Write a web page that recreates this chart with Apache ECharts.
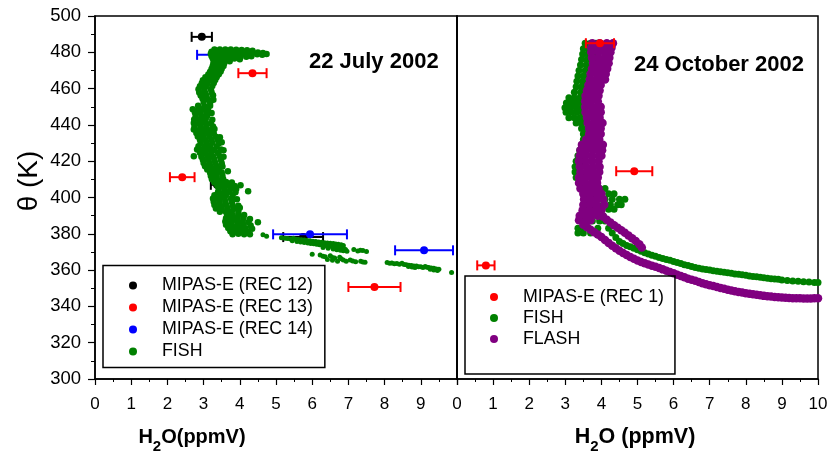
<!DOCTYPE html>
<html><head><meta charset="utf-8">
<script src="https://cdn.jsdelivr.net/npm/echarts@6/dist/echarts.min.js"></script>
<style>html,body{margin:0;padding:0;background:#fff}#c{width:832px;height:457px}</style>
</head><body><div id="c"></div>
<script>
const FONT = '"Liberation Sans", Arial, sans-serif';
const thetaMin = 300, thetaMax = 500, thetaStep = 20;
const h2oMin = 0, h2oMax = 10, h2oStep = 1;

// MIPAS retrievals: [H2O ppmv, theta K, error ppmv]
const mipasRec12 = [[2.95,488.5,0.28],[3.37,407.0,0.17],[5.75,378.2,0.55]];
const mipasRec13 = [[4.35,468.5,0.39],[2.41,411.2,0.34],[7.72,350.7,0.72]];
const mipasRec14 = [[3.35,478.6,0.53],[5.94,379.7,1.02],[9.09,370.9,0.80]];
const mipasRec1  = [[3.96,485.0,0.39],[4.91,414.5,0.50],[0.80,362.6,0.24]];

// FISH 22 July 2002 (upper cloud): [H2O, theta]
const fishJulyCloud = [
[3.30,481.5],[3.45,481.5],[3.60,481.6],[3.75,481.5],[3.90,481.4],[4.05,481.3],[4.20,481.1],[4.35,480.8],
[3.22,480.3],[3.38,480.4],[3.54,480.3],[3.70,480.4],[3.86,480.2],[4.02,480.3],[4.18,480.1],[4.34,480.0],[4.50,479.9],[4.64,479.6],
[3.20,479.2],[3.36,479.1],[3.52,479.3],[3.68,479.0],[3.84,479.2],[4.00,478.9],[4.16,479.0],[4.32,478.8],[4.48,478.9],[4.62,478.7],[4.74,479.1],
[3.22,478.0],[3.38,477.9],[3.54,478.1],[3.70,477.8],[3.86,477.9],[4.02,477.6],[4.18,477.5],[4.32,477.8],
[3.25,476.7],[3.40,476.5],[3.55,476.8],[3.70,476.3],[3.85,476.6],[4.00,476.2],
[3.28,475.3],[3.42,475.0],[3.56,475.4],[3.72,475.1],
[3.27,473.8],[3.42,473.6],[3.57,473.9],
[3.25,472.3],[3.40,472.1],[3.55,472.4],
[3.22,470.8],[3.37,470.6],[3.50,470.9],
[3.18,469.3],[3.33,469.1],[3.47,469.4],
[3.13,467.8],[3.28,467.6],[3.42,467.9],
[3.05,466.2],[3.20,466.0],[3.36,466.3],
[2.98,464.6],[3.14,464.4],[3.32,464.8],
[2.95,463.0],[3.10,462.8],[3.28,463.1],
[2.90,461.3],[3.06,461.2],[3.24,461.5],
[2.86,459.6],[3.02,459.4],[3.20,459.7],
[2.88,457.9],[3.04,457.7],[3.22,458.0],
[2.92,456.2],[3.08,456.0],[3.26,456.3],
[2.97,454.5],[3.12,454.2],[3.27,453.8],
[3.00,452.6],[3.18,452.2],
[2.85,450.5],[3.02,450.3],[3.18,450.6],
[2.70,448.6],[2.85,448.4],[3.00,448.8],[3.12,448.2],
[2.76,446.8],[2.92,446.5],[3.08,446.9],[3.22,446.6],
[2.78,444.9],[2.94,444.6],[3.10,445.0],
[2.74,443.0],[2.90,442.8],[3.06,443.2],[3.24,442.9],
[2.73,441.1],[2.88,440.8],[3.04,441.2],[3.20,440.9],
[2.75,439.2],[2.92,439.0],[3.08,439.4],[3.26,439.1],
[2.73,437.4],[2.88,437.2],[3.04,437.6],[3.20,437.2],[3.30,437.8],
[2.80,435.5],[2.96,435.2],[3.12,435.6],[3.28,435.3],
[2.84,433.6],[3.00,433.4],[3.16,433.8],[3.34,433.5],[3.45,433.2],
[2.90,431.8],[3.06,431.5],[3.22,431.9],[3.40,431.6],
[2.92,430.0],[3.08,429.8],[3.24,430.2],[3.42,429.9],[3.50,430.4],
[2.86,428.2],[3.02,428.0],[3.18,428.4],[3.36,428.1],
[2.82,426.4],[2.98,426.2],[3.14,426.6],[3.30,426.3],[3.48,426.5],[3.55,426.0],
[2.90,424.6],[3.06,424.4],[3.22,424.8],[3.40,424.5],
[2.73,422.7],[2.94,422.5],[3.10,422.9],[3.26,422.6],[3.44,422.8],[3.55,422.4],
[2.98,420.8],[3.14,420.6],[3.30,421.0],[3.48,420.7],
[3.00,419.0],[3.16,418.8],[3.32,419.2],[3.50,418.9],
[3.04,417.2],[3.20,417.0],[3.36,417.4],[3.52,417.1],
[3.10,415.4],[3.26,415.2],[3.42,415.6],[3.67,414.4],
[3.18,413.6],[3.34,413.4],[3.50,413.8],
[3.20,411.8],[3.36,411.6],[3.52,412.0],
[3.23,410.0],[3.38,409.8],[3.54,410.2],
[3.30,408.3],[3.46,408.1],[3.62,408.5],[3.78,408.2],
[3.38,406.5],[3.54,406.3],[3.70,406.7],[3.86,406.4],[4.02,406.8],
[3.42,404.8],[3.58,404.6],[3.74,405.0],[3.90,404.7],[4.23,403.5],
[3.40,403.0],[3.56,402.8],[3.72,403.2],[3.88,402.9],
[3.30,401.2],[3.46,401.0],[3.62,401.4],[3.80,401.1],
[3.26,399.4],[3.42,399.2],[3.58,399.6],[3.76,399.3],[3.92,399.0],
[3.28,397.6],[3.44,397.4],[3.60,397.8],[3.78,397.5],
[3.30,395.8],[3.46,395.6],[3.62,396.0],[3.80,395.7],[3.96,395.4],
[3.34,394.0],[3.50,393.8],[3.66,394.2],[3.84,393.9],[4.00,394.3],
[3.45,392.2],[3.62,392.0],[3.78,392.4],[3.96,392.1],
[3.65,390.4],[3.80,390.2],[3.96,390.6],[4.12,390.3],
[3.62,388.6],[3.78,388.4],[3.94,388.8],[4.10,388.5],[4.28,388.2],
[3.60,386.8],[3.76,386.6],[3.92,387.0],[4.08,386.7],[4.24,386.4],[4.50,386.3],
[3.62,385.0],[3.78,384.8],[3.94,385.2],[4.10,384.9],[4.30,384.6],
[3.68,383.2],[3.84,383.0],[4.00,383.4],[4.16,383.1],[4.34,382.8],
[3.74,381.4],[3.90,381.2],[4.06,381.6],[4.22,381.3],
[3.80,379.8],[3.96,380.0],[4.12,379.7],[4.28,379.8]
];

// FISH 22 July 2002 (lower trail)
const fishJulyTrail = [
[4.64,379.5],[4.74,378.7],
[5.15,377.8],[5.25,377.5],[5.32,377.4],[5.40,377.1],[5.48,377.6],[5.55,377.0],[5.62,376.9],[5.70,376.7],[5.78,376.6],[5.86,376.3],[5.94,376.2],[6.02,375.9],[6.10,375.8],[6.18,375.5],[6.26,375.4],[6.34,375.1],[6.42,375.0],[6.50,374.8],[6.58,374.7],[6.65,374.4],[6.72,374.3],[6.80,373.9],[6.86,373.6],
[5.45,376.2],[5.58,375.8],[5.68,375.5],[5.78,375.2],[5.88,374.9],[5.96,374.6],[6.04,374.5],[6.12,374.2],[6.20,374.0],[6.28,373.8],[6.36,373.6],[6.44,373.3],[6.52,373.2],[6.60,372.9],[6.66,372.7],[6.74,372.4],[6.80,372.2],[6.88,371.8],[6.92,371.4],[6.96,370.4],[6.86,370.6],[6.78,370.9],[6.68,371.2],[6.58,371.6],[6.44,372.0],[6.30,372.5],
[6.00,368.7],[6.22,368.3],[6.30,367.6],[6.36,367.3],[6.50,367.9],[6.56,367.0],[6.62,366.6],[6.76,367.1],[6.80,366.2],[6.86,365.6],[6.42,365.9],[6.94,364.9],[6.70,364.9],[6.56,365.4],
[7.15,371.4],[7.26,370.5],[7.33,371.0],[7.40,370.8],[7.50,370.2],[7.05,365.6],[7.12,365.0],[7.20,364.6],[7.34,364.9],[7.40,364.4],[7.46,364.3],
[8.07,364.2],[8.14,363.8],[8.20,363.9],[8.27,363.5],[8.34,363.6],[8.41,363.2],[8.48,363.8],[8.54,363.1],[8.60,363.0],[8.67,362.7],[8.74,362.6],[8.81,362.2],[8.88,362.3],[8.94,361.9],[9.00,361.8],[9.06,361.5],[9.12,362.0],[9.17,361.6],[9.22,361.4],[9.29,361.1],[9.36,361.0],[9.43,360.6],[9.50,360.4],
[8.66,362.0],[8.76,361.7],[8.84,361.4],[9.26,360.4],[9.36,360.1],[9.46,359.8],[9.85,358.7]
];

// FISH 24 October 2002
const fishOct = [
[3.55,485],[3.70,485],[3.85,485],
[3.50,482],[3.65,482],[3.80,482],
[3.48,479],[3.62,479],[3.78,479],
[3.45,476],[3.60,476],[3.75,476],
[3.42,473],[3.58,473],[3.72,473],
[3.38,470],[3.55,470],[3.70,470],
[3.35,467],[3.50,467],[3.66,467],
[3.32,464],[3.48,464],[3.64,464],
[3.30,461],[3.45,461],[3.60,461],
[3.25,458],[3.42,458],[3.58,458],
[3.10,455],[3.25,455],[3.40,455],[3.56,455],
[3.03,452],[3.18,452],[3.33,452],[3.48,452],
[2.99,449.5],[3.14,449.5],[3.30,449.5],[3.45,449.5],
[3.02,447],[3.17,447],[3.32,447],[3.47,447],
[3.10,444],[3.25,444],[3.40,444],[3.55,444],
[3.30,441],[3.45,441],[3.60,441],
[3.45,438],[3.60,438],
[3.50,435],[3.65,435],
[3.50,432],[3.65,432],
[3.45,429],[3.60,429],
[3.40,426],[3.55,426],
[3.35,423],[3.50,423],
[3.30,420],[3.45,420],
[3.27,417],[3.42,417],
[3.27,414],[3.42,414],
[3.30,411],[3.45,411],
[3.40,408],[3.55,408],
[3.55,405],[3.75,405],[3.95,405],[4.10,405],
[3.60,402],[3.80,402],[4.00,402],[4.20,402],[4.35,402],
[3.70,399],[3.90,399],[4.10,399],[4.30,399],[4.50,399],[4.65,399],
[3.65,396],[3.85,396],[4.05,396],[4.25,396],[4.45,396],[4.55,396],
[3.60,393.5],[3.80,393.5],[4.00,393.5],[4.20,393.5],[4.35,393.5],
[3.50,390],[3.70,390],[3.90,390],[4.05,390],
[3.55,387],[3.75,387],[3.95,387],[4.10,387],
[3.35,383],[3.50,383],[3.65,383],[3.90,383],[4.20,383],
[3.35,380.5],[3.50,380.5],[3.70,380.5],[4.30,380.5],
[4.40,378.0],[4.50,375.8],[4.60,374.6],[4.70,373.6],[4.80,372.8],[4.90,372.0],[5.00,371.2],[5.10,370.4],[5.20,369.6],[5.30,368.9],[5.40,368.2],[5.50,367.6],[5.60,367.0],[5.70,366.4],[5.80,365.9],[5.90,365.4],[6.00,364.8],[6.10,364.2],[6.20,363.6],[6.30,363.0],[6.40,362.5],[6.50,362.0],[6.60,361.5],[6.70,361.0],[6.80,360.6],[6.90,360.3],[7.00,360.0],[7.10,359.7],[7.20,359.4],[7.30,359.1],[7.40,358.8],[7.50,358.5],[7.60,358.2],[7.70,357.9],[7.80,357.7],[7.90,357.4],[8.00,357.1],[8.10,356.8],[8.20,356.5],[8.30,356.3],[8.40,356.0],[8.50,355.8],[8.60,355.5],[8.70,355.3],[8.80,355.1],[8.90,354.9],[9.00,354.6],[9.15,354.3],[9.30,354.0],[9.45,353.8],[9.60,353.6],[9.75,353.4],[9.90,353.2],[10.0,353.1]
];

// FLASH 24 October 2002
const flashOct = [
[3.75,485],[3.95,485],[4.15,485],[4.32,485],
[3.72,482.5],[3.92,482.5],[4.12,482.5],[4.28,482.5],
[3.72,480],[3.92,480],[4.10,480],[4.25,480],
[3.74,477],[3.92,477],[4.10,477],[4.22,477],
[3.77,474],[3.94,474],[4.08,474],[4.20,474],
[3.74,471],[3.90,471],[4.05,471],[4.16,471],
[3.70,468],[3.88,468],[4.03,468],[4.12,468],
[3.68,465],[3.85,465],[4.00,465],[4.10,465],
[3.64,462],[3.82,462],[3.98,462],
[3.60,459],[3.78,459],[3.95,459],
[3.56,456],[3.74,456],[3.92,456],
[3.55,453],[3.72,453],[3.90,453],
[3.55,450],[3.72,450],[3.88,450],[3.98,450],
[3.56,447],[3.74,447],[3.90,447],[3.98,447],
[3.60,444],[3.78,444],[3.95,444],
[3.62,441],[3.80,441],[3.97,441],[4.03,441],
[3.66,438],[3.82,438],[3.98,438],
[3.66,435],[3.82,435],[3.98,435],
[3.58,432],[3.76,432],[3.94,432],
[3.46,429],[3.62,429],[3.80,429],[3.96,429],[4.04,429],
[3.42,426],[3.58,426],[3.76,426],[3.94,426],[4.02,426],
[3.40,423],[3.56,423],[3.74,423],[3.92,423],[4.00,423],
[3.38,420],[3.56,420],[3.74,420],[3.92,420],
[3.40,417],[3.58,417],[3.76,417],[3.95,417],
[3.42,414],[3.60,414],[3.78,414],[3.94,414],
[3.38,411],[3.56,411],[3.74,411],[3.90,411],
[3.38,408],[3.55,408],[3.72,408],[3.88,408],
[3.42,405],[3.60,405],[3.78,405],[3.92,405],
[3.50,402],[3.68,402],[3.86,402],[4.00,402],
[3.52,399],[3.70,399],[3.88,399],[4.05,399],
[3.50,396],[3.68,396],[3.86,396],[4.08,396],
[3.48,393],[3.66,393],[3.84,393],[4.00,393],
[3.40,390],[3.56,390],[3.72,390],[3.90,390],
[3.38,387.5],[3.55,387],[3.70,387.5],
[3.50,385.0],[3.60,383.6],[3.70,382.2],[3.80,380.9],[3.90,379.6],[4.00,378.2],[4.10,376.6],[4.20,375.0],[4.30,373.4],[4.40,372.0],[4.50,370.6],[4.60,369.4],[4.70,368.3],[4.80,367.2],[4.90,366.2],[5.00,365.3],[5.10,364.5],[5.20,363.8],[5.30,363.1],[5.40,362.4],[5.50,361.8],[5.60,361.1],[5.70,360.4],[5.80,359.6],[5.90,358.9],[6.00,358.2],[6.10,357.4],[6.20,356.7],[6.30,356.0],[6.40,355.3],[6.50,354.7],[6.60,354.1],[6.70,353.4],[6.80,352.8],[6.90,352.2],[7.00,351.7],[7.10,351.2],[7.20,350.7],[7.30,350.2],[7.40,349.7],[7.50,349.2],[7.60,348.8],[7.70,348.4],[7.80,348.0],[7.90,347.6],[8.00,347.3],[8.10,347.0],[8.20,346.7],[8.30,346.4],[8.40,346.1],[8.50,345.8],[8.60,345.6],[8.70,345.4],[8.80,345.2],[8.90,345.0],[9.00,344.9],[9.10,344.7],[9.20,344.6],[9.30,344.5],[9.40,344.5],[9.50,344.5],[9.60,344.4],[9.70,344.4],[9.80,344.4],[9.90,344.5],[10.0,344.5],
[3.95,391.0],[4.05,389.4],[4.15,387.8],[4.25,386.2],[4.35,384.7],[4.45,383.3],[4.55,382.0],[4.65,380.6],[4.75,379.0],[4.85,377.6],[4.95,376.0],[5.05,374.2],[5.12,372.4]
];

const chart = echarts.init(document.getElementById('c'), null, {renderer: 'canvas'});

function errBar(params, api) {
  const x = api.value(0), y = api.value(1), e = api.value(2);
  const a = api.coord([x - e, y]), b = api.coord([x + e, y]), c = api.coord([x, y]);
  const col = api.visual('color');
  const h = 5;
  const st = {stroke: col, lineWidth: 2};
  return {type: 'group', children: [
    {type: 'line', shape: {x1: a[0], y1: a[1], x2: b[0], y2: b[1]}, style: st},
    {type: 'line', shape: {x1: a[0], y1: a[1] - h, x2: a[0], y2: a[1] + h}, style: st},
    {type: 'line', shape: {x1: b[0], y1: b[1] - h, x2: b[0], y2: b[1] + h}, style: st},
    {type: 'circle', shape: {cx: c[0], cy: c[1], r: 4}, style: {fill: col}}
  ]};
}

function xAxisCfg(gi, hideMax) {
  return {
    type: 'value', gridIndex: gi, min: h2oMin, max: h2oMax, interval: h2oStep,
    axisLine: {onZero: false, lineStyle: {color: '#000', width: 1.5}},
    axisTick: {show: true, length: 6, lineStyle: {color: '#000', width: 1.2}},
    minorTick: {show: true, splitNumber: 2, length: 3, lineStyle: {color: '#000', width: 1}},
    splitLine: {show: false}, minorSplitLine: {show: false},
    axisLabel: {color: '#000', fontSize: 17, fontFamily: FONT, margin: 17,
      formatter: v => (hideMax && v === h2oMax) ? '' : String(v)}
  };
}

function mip(name, data, color, xi, yi, z) {
  return {type: 'custom', name: name, xAxisIndex: xi, yAxisIndex: yi, data: data,
    dimensions: ['x', 'y', 'err'], encode: {x: 0, y: 1}, renderItem: errBar,
    itemStyle: {color: color}, clip: true, z: z, silent: true};
}

function sc(name, data, color, xi, size, z) {
  return {type: 'scatter', name: name, xAxisIndex: xi, yAxisIndex: xi, data: data,
    symbol: 'circle', symbolSize: size, itemStyle: {color: color, opacity: 1}, clip: true, z: z, silent: true};
}

const legendText = {color: '#000', fontSize: 17.8, fontFamily: FONT, lineHeight: 18};

chart.setOption({
  animation: false,
  backgroundColor: '#fff',
  title: [
    {text: '22 July 2002', left: 309, top: 51, padding: 0,
     textStyle: {fontSize: 22, fontWeight: 'bold', color: '#000', fontFamily: FONT}},
    {text: '24 October 2002', left: 634, top: 54, padding: 0,
     textStyle: {fontSize: 22, fontWeight: 'bold', color: '#000', fontFamily: FONT}}
  ],
  grid: [
    {left: 95, top: 16, width: 362, height: 363, show: true, borderColor: '#000', borderWidth: 1.5, backgroundColor: 'transparent'},
    {left: 457, top: 16, width: 361, height: 363, show: true, borderColor: '#000', borderWidth: 1.5, backgroundColor: 'transparent'}
  ],
  xAxis: [xAxisCfg(0, true), xAxisCfg(1, false)],
  yAxis: [
    {type: 'value', gridIndex: 0, min: thetaMin, max: thetaMax, interval: thetaStep,
     axisLine: {show: true, lineStyle: {color: '#000', width: 1.5}},
     axisTick: {show: true, length: 7, lineStyle: {color: '#000', width: 1.2}},
     minorTick: {show: true, splitNumber: 2, length: 4, lineStyle: {color: '#000', width: 1}},
     splitLine: {show: false},
     axisLabel: {color: '#000', fontSize: 18.5, fontFamily: FONT, margin: 14}},
    {type: 'value', gridIndex: 1, min: thetaMin, max: thetaMax, interval: thetaStep,
     axisLine: {show: true, lineStyle: {color: '#000', width: 1.5}},
     axisTick: {show: false}, axisLabel: {show: false}, splitLine: {show: false}}
  ],
  legend: [
    {orient: 'vertical', left: 103, top: 265.5, selectedMode: false,
     data: [{name: 'MIPAS-E (REC 12)', icon: 'circle'}, {name: 'MIPAS-E (REC 13)', icon: 'circle'},
            {name: 'MIPAS-E (REC 14)', icon: 'circle'}, {name: 'FISH', icon: 'circle'}],
     itemWidth: 48, itemHeight: 8, itemGap: 4, padding: [11, 12, 7, 26],
     borderColor: '#000', borderWidth: 1.5, textStyle: legendText},
    {orient: 'vertical', left: 465, top: 276, selectedMode: false,
     data: [{name: 'MIPAS-E (REC 1)', icon: 'circle'}, {name: 'FISH', icon: 'circle'}, {name: 'FLASH', icon: 'circle'}],
     itemWidth: 48, itemHeight: 8, itemGap: 3, padding: [12, 11, 26, 25],
     borderColor: '#000', borderWidth: 1.5, textStyle: legendText}
  ],
  graphic: [
    {type: 'text', x: 29, y: 181, rotation: Math.PI / 2,
     style: {text: 'θ (K)', font: '28px ' + FONT, fill: '#000', align: 'center', verticalAlign: 'middle'}},
    {type: 'text', x: 192, y: 437,
     style: {text: '{a|H}{b|2}{a|O(ppmV)}', align: 'center', verticalAlign: 'middle', fill: '#000',
       rich: {a: {fontSize: 20, fontWeight: 'bold', fontFamily: FONT, lineHeight: 34, fill: '#000'},
              b: {fontSize: 15, fontWeight: 'bold', fontFamily: FONT, lineHeight: 14, verticalAlign: 'bottom', fill: '#000'}}}},
    {type: 'text', x: 635, y: 437,
     style: {text: '{a|H}{b|2}{a|O (ppmV)}', align: 'center', verticalAlign: 'middle', fill: '#000',
       rich: {a: {fontSize: 21.5, fontWeight: 'bold', fontFamily: FONT, lineHeight: 34, fill: '#000'},
              b: {fontSize: 15, fontWeight: 'bold', fontFamily: FONT, lineHeight: 14, verticalAlign: 'bottom', fill: '#000'}}}}
  ],
  series: [
    mip('MIPAS-E (REC 12)', mipasRec12, '#000000', 0, 0, 2),
    mip('MIPAS-E (REC 13)', mipasRec13, '#ff0000', 0, 0, 2),
    mip('MIPAS-E (REC 14)', mipasRec14, '#0000ff', 0, 0, 2),
    sc('FISH', fishJulyCloud, '#008000', 0, 6.5, 3),
    sc('FISH', fishJulyTrail, '#008000', 0, 5, 3),
    sc('FISH', fishOct, '#008000', 1, 7, 2),
    sc('FLASH', flashOct, '#800080', 1, 8.5, 3),
    mip('MIPAS-E (REC 1)', mipasRec1, '#ff0000', 1, 1, 4)
  ]
});
</script></body></html>
